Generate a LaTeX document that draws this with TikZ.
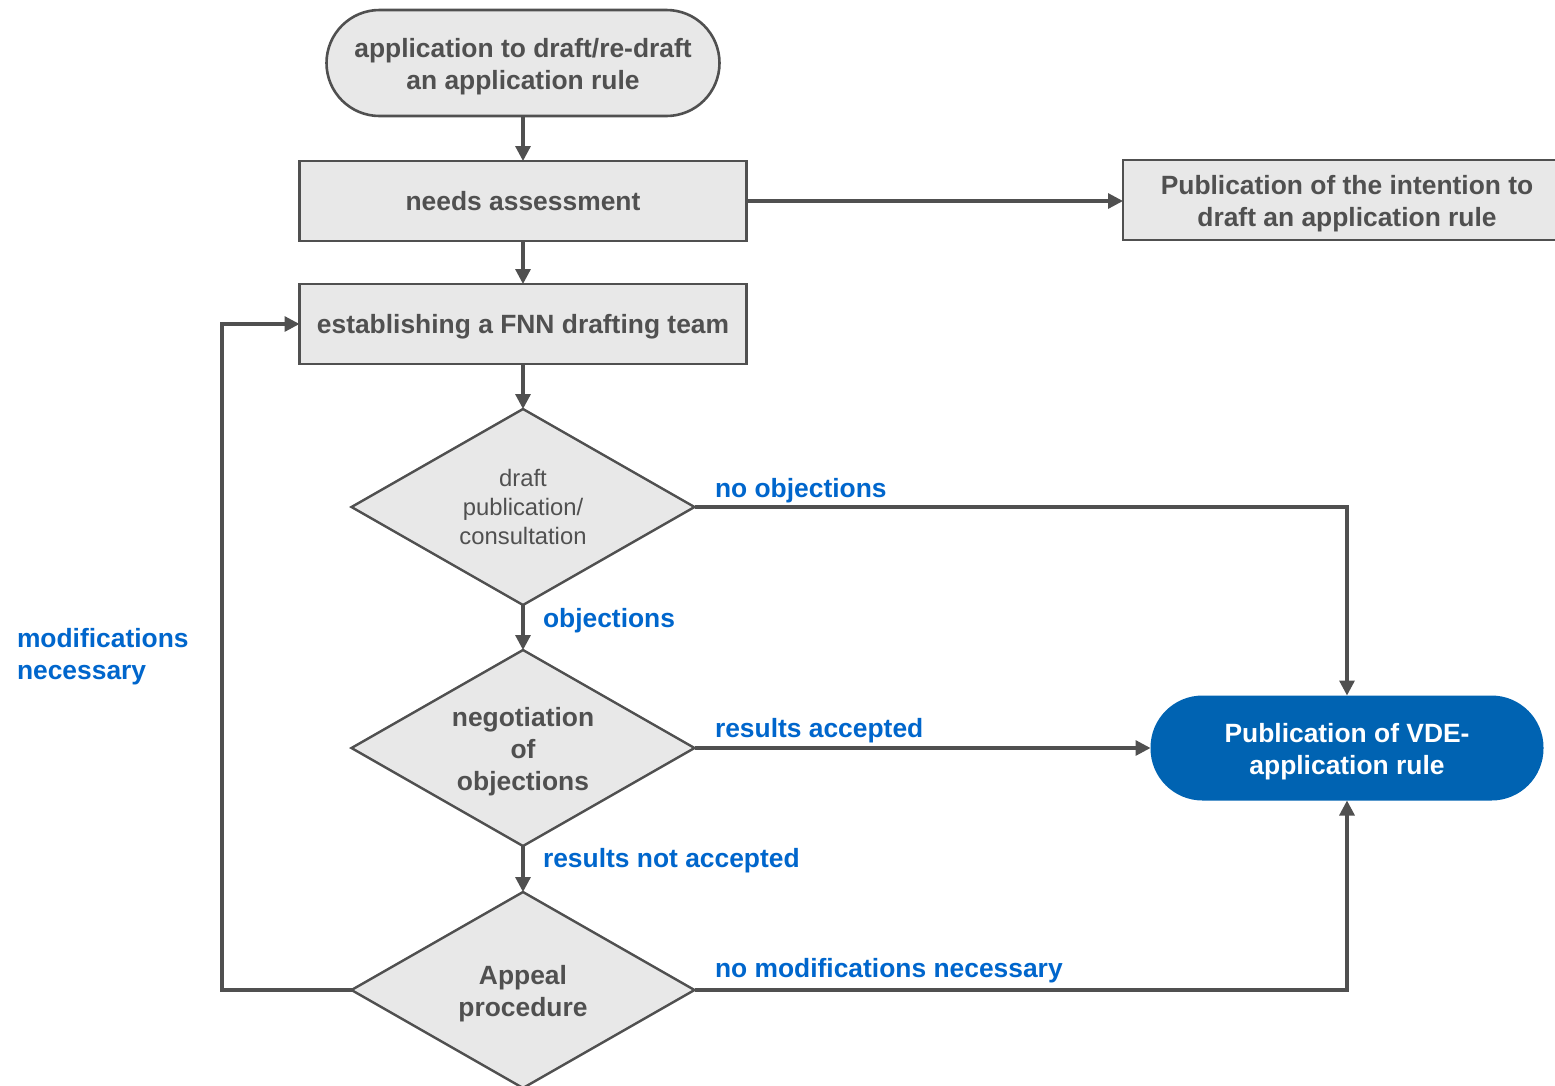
\documentclass[tikz,border=0pt]{standalone}
\usepackage{fontspec}
\setmainfont{Liberation Sans}
\usetikzlibrary{shapes.geometric,arrows.meta}
\definecolor{ink}{RGB}{80,80,80}
\definecolor{boxfill}{RGB}{232,232,232}
\definecolor{vdeblue}{RGB}{0,99,178}
\definecolor{labelblue}{RGB}{0,102,204}
% taller first line so that multi-line texts sit a little lower in their shapes
\newcommand\firstlinepad{\rule{0pt}{27pt}}
\begin{document}
\begin{tikzpicture}[x=1pt,y=-1pt,
  every node/.style={inner sep=0pt, outer sep=0pt},
  bigtext/.style={font=\bfseries\fontsize{26.4}{32}\selectfont, text=ink, align=center},
  procbox/.style={bigtext, draw=ink, line width=2.6pt, fill=boxfill,
    minimum width=447pt, minimum height=80pt},
  terminal/.style={bigtext, draw=ink, line width=2.6pt, fill=boxfill,
    rounded corners=53pt, minimum width=393pt, minimum height=106pt},
  finalbox/.style={bigtext, text=white, fill=vdeblue,
    rounded corners=52pt, minimum width=393pt, minimum height=105pt},
  decision/.style={bigtext, shape=diamond, shape aspect=1.75,
    minimum width=343pt, minimum height=196pt,
    draw=ink, line width=2.4pt, fill=boxfill},
  link/.style={draw=ink, line width=3.2pt, -{Triangle[length=15pt,width=15pt]}},
  tag/.style={font=\bfseries\fontsize{26.4}{32}\selectfont, text=labelblue, anchor=base west},
]
\useasboundingbox (0,0) rectangle (1555,1085);

% process chain
\node[terminal] (start) at (523,63) {\firstlinepad application to draft/re-draft\\an application rule};
\node[procbox] (needs) at (523,201) {needs assessment};
\node[procbox, minimum width=448pt] (intent) at (1347,200) {\firstlinepad Publication of the intention to\\draft an application rule};
\node[procbox, text depth=0pt] (team) at (523,324) {establishing a FNN drafting team};
\node[decision, font=\fontsize{23.8}{29}\selectfont] (d1) at (523,507) {draft\\publication/\\consultation};
\node[decision] (d2) at (523,748) {\firstlinepad negotiation\\of\\objections};
\node[decision] (d3) at (523,990) {\firstlinepad Appeal\\procedure};
\node[finalbox] (vde) at (1347,748) {\firstlinepad Publication of VDE-\\application rule};
\coordinate (loopcorner) at (222,324);

% connectors
\draw[link] (start) -- (needs);
\draw[link] (needs) -- (team);
\draw[link] (needs.east) -- (intent.west |- needs.east);
\draw[link] (team) -- (d1);
\draw[link] (d1) -- (d2);
\draw[link] (d2) -- (d3);
\draw[link] (d2) -- (vde);
\draw[link] (d1.east) -| (vde.north);
\draw[link] (d3.east) -| (vde.south);
\draw[link] (d3.west) -| (loopcorner) -- (team.west);

% branch labels
\node[tag] (lno) at (715,497) {no objections};
\node[tag] (lobj) at (543,627) {objections};
\node[tag] (lacc) at (715,737) {results accepted};
\node[tag] (lnacc) at (543,867) {results not accepted};
\node[tag] (lnomod) at (715,977) {no modifications necessary};
\node[tag, anchor=west, align=left] (lmod) at (17,657) {modifications\\necessary};
\end{tikzpicture}
\end{document}
